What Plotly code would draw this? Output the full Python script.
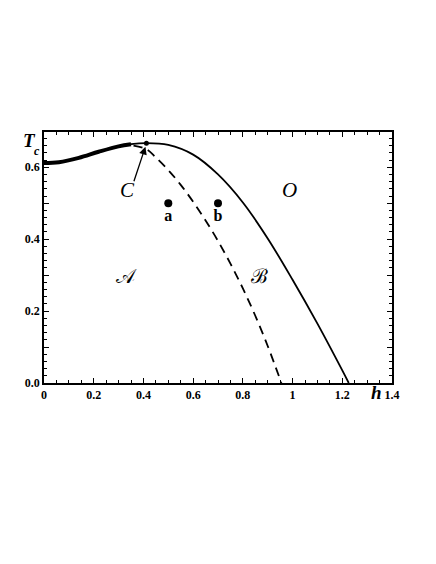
import plotly.graph_objects as go

# Solid transition line
solid_h = [0, 0.06, 0.14, 0.22, 0.30, 0.35, 0.412, 0.5, 0.6, 0.7, 0.8, 0.9, 1.0, 1.1, 1.2, 1.226]
solid_T = [0.612, 0.614, 0.626, 0.643, 0.658, 0.664, 0.667, 0.662, 0.635, 0.580, 0.502, 0.402, 0.287, 0.165, 0.035, 0.0]
# thick part of the solid line
thick_h = [0, 0.06, 0.14, 0.22, 0.30, 0.35]
thick_T = [0.612, 0.614, 0.626, 0.643, 0.658, 0.664]
# Dashed line
dash_h = [0.36, 0.412, 0.45, 0.5, 0.55, 0.6, 0.65, 0.7, 0.75, 0.8, 0.85, 0.9, 0.955]
dash_T = [0.660, 0.650, 0.627, 0.592, 0.551, 0.504, 0.452, 0.395, 0.332, 0.263, 0.187, 0.103, 0.0]
# marked points
pts_h = [0.5, 0.7]
pts_T = [0.5, 0.5]
pts_lab = ["a", "b"]
C_h, C_T = 0.412, 0.667

x_tickvals = [0, 0.2, 0.4, 0.6, 0.8, 1.0, 1.2, 1.4]
x_ticktext = ["0", "0.2", "0.4", "0.6", "0.8", "1", "1.2", "1.4"]
y_tickvals = [0.0, 0.1, 0.2, 0.3, 0.4, 0.5, 0.6]
y_ticktext = ["0.0", "", "0.2", "", "0.4", "", "0.6"]

FONT = "Liberation Serif"

fig = go.Figure()
fig.add_trace(go.Scatter(x=solid_h, y=solid_T, mode="lines",
                         line=dict(color="black", width=1.8, shape="spline"), hoverinfo="skip"))
fig.add_trace(go.Scatter(x=thick_h, y=thick_T, mode="lines",
                         line=dict(color="black", width=4, shape="spline"), hoverinfo="skip"))
fig.add_trace(go.Scatter(x=dash_h, y=dash_T, mode="lines",
                         line=dict(color="black", width=1.8, shape="spline", dash="9px,6px"), hoverinfo="skip"))
fig.add_trace(go.Scatter(x=pts_h, y=pts_T, mode="markers+text", text=pts_lab,
                         textposition="bottom center",
                         textfont=dict(family=FONT, size=16, color="black", weight="bold"),
                         marker=dict(color="black", size=8), hoverinfo="skip"))
fig.add_trace(go.Scatter(x=[C_h], y=[C_T], mode="markers",
                         marker=dict(color="black", size=5), hoverinfo="skip"))

ann = []
# arrow to C
ann.append(dict(x=C_h - 0.004, y=C_T - 0.01, xref="x", yref="y", text="", showarrow=True,
                ax=-12, ay=36, arrowhead=2, arrowsize=1.2, arrowwidth=1.3, arrowcolor="black"))

W, H = 436, 564
L, R, T, B = 44, 44, 132, 181


def plab(xp, yp, t, size, bold=False, italic=True):
    s = t
    if italic:
        s = "<i>" + s + "</i>"
    if bold:
        s = "<b>" + s + "</b>"
    xpaper = (xp - L) / (W - L - R)
    ypaper = (H - B - yp) / (H - T - B)
    ann.append(dict(x=xpaper, y=ypaper, xref="paper", yref="paper", text=s, showarrow=False,
                    font=dict(family=FONT, size=size, color="black"),
                    xanchor="center", yanchor="middle"))


fig.update_layout(
    width=W, height=H,
    margin=dict(l=L, r=R, t=T, b=B),
    paper_bgcolor="white", plot_bgcolor="white",
    showlegend=False,
    font=dict(family=FONT, size=11, color="black"),
    xaxis=dict(range=[0, 1.4], showgrid=False, zeroline=False,
               showline=True, linecolor="black", linewidth=1.5, mirror="allticks",
               ticks="inside", ticklen=5, tickwidth=1, tickcolor="black",
               tickvals=x_tickvals, ticktext=x_ticktext,
               tickfont=dict(family=FONT, size=12, color="black", weight="bold"),
               minor=dict(dtick=0.05, ticks="inside", ticklen=3, tickwidth=1, tickcolor="black", showgrid=False)),
    yaxis=dict(range=[0, 0.698], showgrid=False, zeroline=False,
               showline=True, linecolor="black", linewidth=1.5, mirror="allticks",
               ticks="inside", ticklen=5, tickwidth=1, tickcolor="black",
               tickvals=y_tickvals, ticktext=y_ticktext,
               tickfont=dict(family=FONT, size=12, color="black", weight="bold"),
               minor=dict(dtick=0.02, ticks="inside", ticklen=3, tickwidth=1, tickcolor="black", showgrid=False)),
)

plab(29, 140, "T", 19, bold=True)
plab(37, 151, "c", 12, bold=True)
plab(376, 392, "h", 19, bold=True)
plab(127, 190, "C", 21)
plab(289, 190, "O", 21)
plab(126, 276, "𝒜", 20, italic=False)
plab(259, 276, "ℬ", 20, italic=False)

fig.update_layout(annotations=ann)
fig.write_html("out.html", config={"displayModeBar": False},
               post_script="document.body.style.margin='0px';")
